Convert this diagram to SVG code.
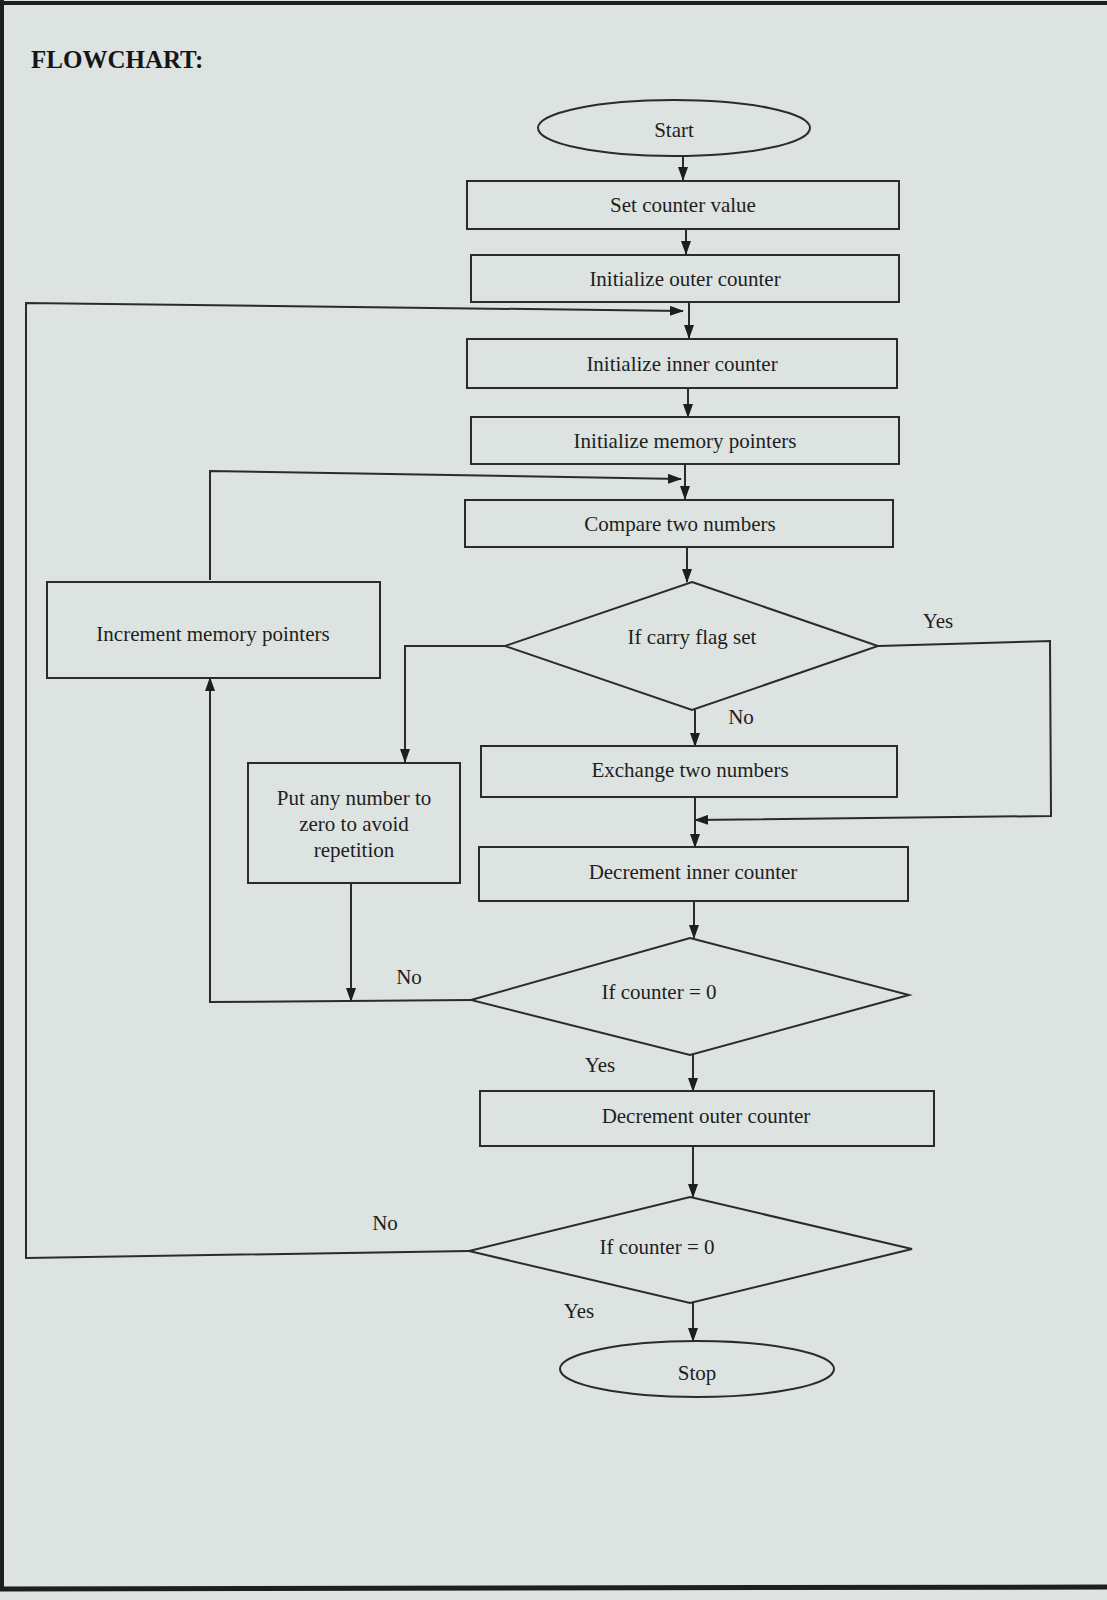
<svg xmlns="http://www.w3.org/2000/svg" width="1107" height="1600" viewBox="0 0 1107 1600">
<style>
.bg{fill:#dde3e0}
.n{fill:none;stroke:#2b2b2b;stroke-width:2}
.t{font-family:"Liberation Serif","Times New Roman",serif;font-size:21px;fill:#1e1e1e;text-anchor:middle;dominant-baseline:central}
.l{font-family:"Liberation Serif","Times New Roman",serif;font-size:21px;fill:#1e1e1e;text-anchor:middle;dominant-baseline:central}
.c{fill:none;stroke:#2b2b2b;stroke-width:2}
.a{marker-end:url(#ah)}
</style>
<defs>
<marker id="ah" markerUnits="userSpaceOnUse" markerWidth="14" markerHeight="10" refX="13" refY="5" orient="auto">
<path d="M0,0 L14,5 L0,10 Z" fill="#1e1e1e"/>
</marker>
</defs>
<rect class="bg" x="0" y="0" width="1107" height="1600"/>
<g id="page-border" stroke="#1e1e1e" fill="none">
<line x1="0" y1="3" x2="1107" y2="3" stroke-width="4"/>
<line x1="2" y1="0" x2="2" y2="1590" stroke-width="4"/>
<line x1="0" y1="1589" x2="1107" y2="1587" stroke-width="5"/>
</g>
<text id="title" x="31" y="68" font-family="Liberation Serif, Times New Roman, serif" font-weight="bold" font-size="25" fill="#151515">FLOWCHART:</text>

<g id="connectors">
<path class="c a" d="M683 156 L683 180"/>
<path class="c a" d="M686 230 L686 254"/>
<path class="c a" d="M689 302 L689 338"/>
<path class="c a" d="M469 1251 L26 1258 L26 303 L683 311"/>
<path class="c a" d="M688 389 L688 417"/>
<path class="c a" d="M685 464 L685 499"/>
<path class="c a" d="M210 580 L210 471 L681 479"/>
<path class="c a" d="M687 547 L687 582"/>
<path class="c a" d="M505 646 L405 646 L405 762"/>
<path class="c a" d="M695 710 L695 746"/>
<path class="c a" d="M878 646 L1050 641 L1051 816 L695 820"/>
<path class="c a" d="M695 797 L695 847"/>
<path class="c a" d="M694 902 L694 938"/>
<path class="c a" d="M471 1000 L210 1002 L210 678"/>
<path class="c a" d="M351 883 L351 1001"/>
<path class="c a" d="M693 1055 L693 1091"/>
<path class="c a" d="M693 1146 L693 1197"/>
<path class="c a" d="M693 1303 L693 1341"/>
<text class="l" x="938" y="621">Yes</text>
<text class="l" x="741" y="717">No</text>
<text class="l" x="409" y="977">No</text>
<text class="l" x="600" y="1065">Yes</text>
<text class="l" x="385" y="1223">No</text>
<text class="l" x="579" y="1311">Yes</text>
</g>

<g id="start"><ellipse class="n" cx="674" cy="128" rx="136" ry="28"/><text class="t" x="674" y="130">Start</text></g>
<g id="set-counter"><rect class="n" x="467" y="181" width="432" height="48"/><text class="t" x="683" y="205">Set counter value</text></g>
<g id="init-outer"><rect class="n" x="471" y="255" width="428" height="47"/><text class="t" x="685" y="279">Initialize outer counter</text></g>
<g id="init-inner"><rect class="n" x="467" y="339" width="430" height="49"/><text class="t" x="682" y="364">Initialize inner counter</text></g>
<g id="init-mem"><rect class="n" x="471" y="417" width="428" height="47"/><text class="t" x="685" y="441">Initialize memory pointers</text></g>
<g id="compare"><rect class="n" x="465" y="500" width="428" height="47"/><text class="t" x="680" y="524">Compare two numbers</text></g>
<g id="carry"><polygon class="n" points="692,582 878,646 692,710 505,646"/><text class="t" x="692" y="637">If carry flag set</text></g>
<g id="increment"><rect class="n" x="47" y="582" width="333" height="96"/><text class="t" x="213" y="634">Increment memory  pointers</text></g>
<g id="put-zero"><rect class="n" x="248" y="763" width="212" height="120"/><text class="t" x="354" y="798">Put any number to</text><text class="t" x="354" y="824">zero to avoid</text><text class="t" x="354" y="850">repetition</text></g>
<g id="exchange"><rect class="n" x="481" y="746" width="416" height="51"/><text class="t" x="690" y="770">Exchange two numbers</text></g>
<g id="dec-inner"><rect class="n" x="479" y="847" width="429" height="54"/><text class="t" x="693" y="872">Decrement inner counter</text></g>
<g id="inner-zero"><polygon class="n" points="690,938 909,995 690,1055 471,1000"/><text class="t" x="659" y="992">If counter = 0</text></g>
<g id="dec-outer"><rect class="n" x="480" y="1091" width="454" height="55"/><text class="t" x="706" y="1116">Decrement outer counter</text></g>
<g id="outer-zero"><polygon class="n" points="690,1197 912,1249 690,1303 469,1251"/><text class="t" x="657" y="1247">If counter = 0</text></g>
<g id="stop"><ellipse class="n" cx="697" cy="1369" rx="137" ry="28"/><text class="t" x="697" y="1373">Stop</text></g>
</svg>
